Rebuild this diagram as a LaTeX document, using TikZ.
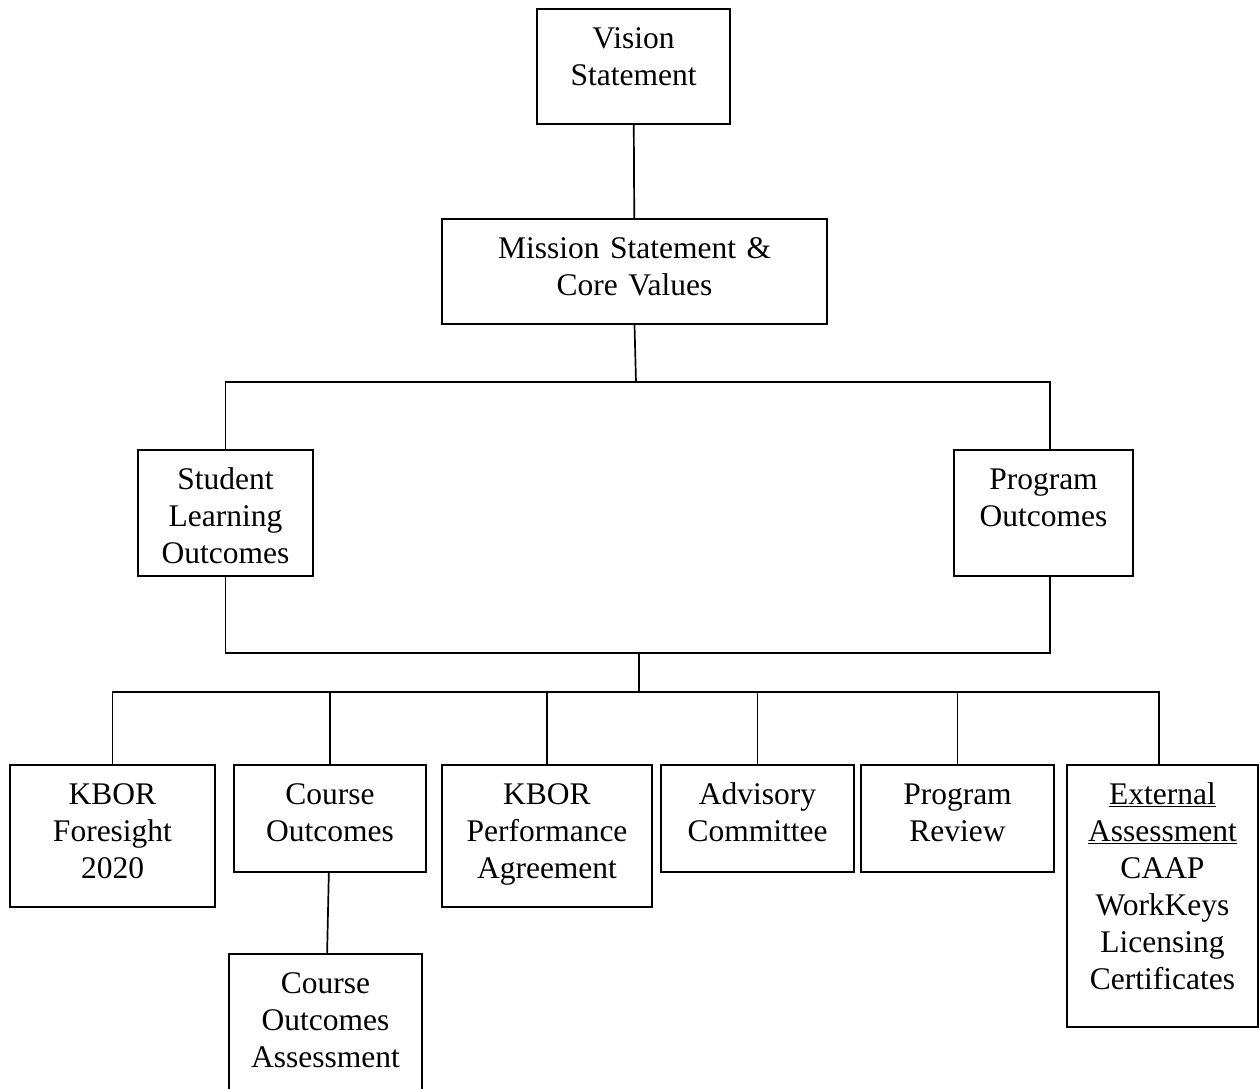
\documentclass[tikz,border=0pt]{standalone}
\usepackage{fontspec}
\setmainfont{Liberation Serif}
\begin{document}
\begin{tikzpicture}[x=1pt,y=-1pt,
    box/.style={draw=black,line width=1.9pt,inner sep=0pt,anchor=north,align=center,text height=40pt,font=\fontsize{31.5}{36.9}\selectfont},
    link/.style={draw=black,line width=1.7pt}]
    \clip (0,0) rectangle (1259,1088);

    \node[box,text width=193pt,text depth=75pt] (vision) at (633.5,8) {Vision\\Statement};
    \node[box,text width=385pt,text depth=65pt] (mission) at (634.5,218) {Mission Statement \&\\Core Values};
    \node[box,text width=175pt,text depth=86pt] (slo) at (225.5,449) {Student\\Learning\\Outcomes};
    \node[box,text width=179pt,text depth=86pt] (po) at (1043.5,449) {Program\\Outcomes};

    \node[box,text width=205pt,text depth=102pt] (kbor) at (112.5,764) {KBOR\\Foresight\\2020};
    \node[box,text width=192pt,text depth=67pt] (course) at (330,764) {Course\\Outcomes};
    \node[box,text width=210pt,text depth=102pt] (perf) at (547,764) {KBOR\\Performance\\Agreement};
    \node[box,text width=193pt,text depth=67pt] (advis) at (757.5,764) {Advisory\\Committee};
    \node[box,text width=193pt,text depth=67pt] (review) at (957.5,764) {Program\\Review};
    \node[box,text width=191pt,text depth=222pt] (extern) at (1162.5,764) {\underline{External}\\\underline{Assessment}\\CAAP\\WorkKeys\\Licensing\\Certificates};
    \node[box,text width=193pt,text depth=110pt] (coa) at (325.5,953) {Course\\Outcomes\\Assessment};

    \coordinate (hubA) at (636,382);
    \coordinate (hubB) at (639,653);
    \coordinate (hubC) at (639,692);

    \draw[link] (vision) -- (mission);
    \draw[link] (mission.south) -- (hubA);
    \draw[link] (slo.north) |- (hubA) -| ([xshift=6.5pt]po.north);
    \draw[link] (slo.south) |- (hubB) -| ([xshift=6.5pt]po.south);
    \draw[link] (hubB) -- (hubC);
    \draw[link] (kbor.north) |- (hubC) -| ([xshift=-3.5pt]extern.north);
    \draw[link] (course.north) -- (course.north |- hubC);
    \draw[link] (perf.north) -- (perf.north |- hubC);
    \draw[link] (advis.north) -- (advis.north |- hubC);
    \draw[link] (review.north) -- (review.north |- hubC);
    \draw[link] (course) -- (coa);

  \end{tikzpicture}
\end{document}
